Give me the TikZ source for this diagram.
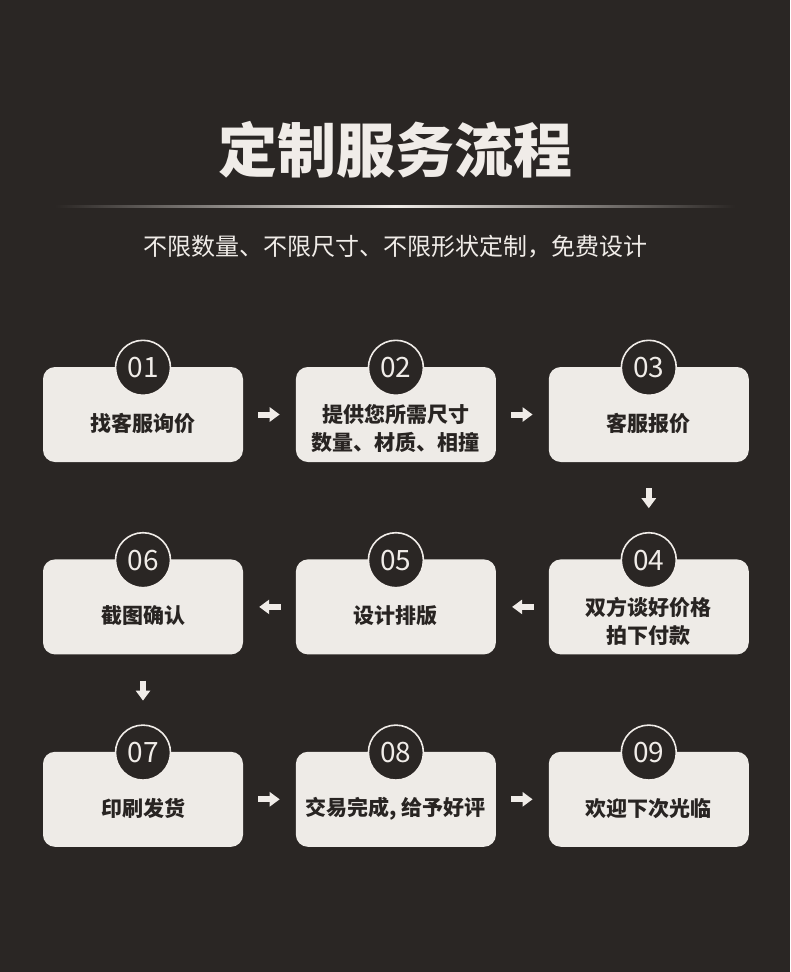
\documentclass[tikz,border=0pt]{standalone}
\usepackage{fontspec}
\setmainfont{Noto Sans CJK SC}
\usepackage{tikz}
\usetikzlibrary{arrows.meta,positioning}
\definecolor{pagebg}  {RGB}{42, 38, 36}
\definecolor{cardbg}  {RGB}{238,235,231}
\definecolor{inkdark} {RGB}{40, 36, 34}
\definecolor{inklight}{RGB}{240,236,232}

\begin{document}
\begin{tikzpicture}[
    x=1pt, y=-1pt,
    node distance=97pt and 52.5pt,
    card/.style={draw=none, fill=cardbg, rectangle, rounded corners=12pt, minimum width=200pt, minimum height=95pt, inner sep=0pt},
    cardtext/.style={align=center, text=inkdark, font=\fontsize{21}{28}\selectfont\bfseries},
    numdot/.style={circle, fill=pagebg, draw=inklight, line width=1.6pt, minimum size=55pt, inner sep=0pt, text=inklight, font=\fontsize{28}{28}\selectfont},
    flow/.style={-{Triangle[length=10pt,width=14pt]}, line width=6pt, draw=inklight, shorten <=15pt, shorten >=16pt}
]
    % --- page ---
    \fill[pagebg] (0,0) rectangle (790,972);
    \useasboundingbox (0,0) rectangle (790,972);

    % --- heading ---
    \node[text=inklight, font=\fontsize{59}{60}\selectfont\bfseries] (title) at (395,150) {定制服务流程};
    \shade[left color=pagebg, right color=pagebg, middle color=inklight] (55,205.5) rectangle (735,207);
    \node[text=inklight, font=\fontsize{24}{26}\selectfont] (subtitle) at (395,247) {不限数量、不限尺寸、不限形状定制，免费设计};

    % --- row 1 ---
    \node[card] (s01) at (143,414.5) {};
    \node[card] (s02) [right=of s01] {};
    \node[card] (s03) [right=of s02] {};
    % --- row 2 ---
    \node[card] (s04) [below=of s03] {};
    \node[card] (s05) [below=of s02] {};
    \node[card] (s06) [below=of s01] {};
    % --- row 3 ---
    \node[card] (s07) [below=of s06] {};
    \node[card] (s08) [below=of s05] {};
    \node[card] (s09) [below=of s04] {};

    % --- card texts ---
    \node[cardtext] (t01) at ([yshift=-9pt]s01.center) {找客服询价};
    \node[cardtext] (t02) at ([yshift=-14pt]s02.center) {提供您所需尺寸\\数量、材质、相撞};
    \node[cardtext] (t03) at ([yshift=-9pt]s03.center) {客服报价};
    \node[cardtext] (t04) at ([yshift=-14pt]s04.center) {双方谈好价格\\拍下付款};
    \node[cardtext] (t05) at ([yshift=-9pt]s05.center) {设计排版};
    \node[cardtext] (t06) at ([yshift=-9pt]s06.center) {截图确认};
    \node[cardtext] (t07) at ([yshift=-9pt]s07.center) {印刷发货};
    \node[cardtext] (t08) at ([yshift=-9pt]s08.center) {交易完成, 给予好评};
    \node[cardtext] (t09) at ([yshift=-9pt]s09.center) {欢迎下次光临};

    % --- step numbers ---
    \foreach \k in {01,02,03,04,05,06,07,08,09}
        \node[numdot] (n\k) at ([yshift=-1pt]s\k.north) {\k};

    % --- flow arrows ---
    \draw[flow] (s01) -- (s02);
    \draw[flow] (s02) -- (s03);
    \draw[flow, shorten <=26pt, shorten >=51pt] (s03) -- (s04);
    \draw[flow] (s04) -- (s05);
    \draw[flow] (s05) -- (s06);
    \draw[flow, shorten <=26pt, shorten >=51pt] (s06) -- (s07);
    \draw[flow] (s07) -- (s08);
    \draw[flow] (s08) -- (s09);

\end{tikzpicture}
\end{document}
